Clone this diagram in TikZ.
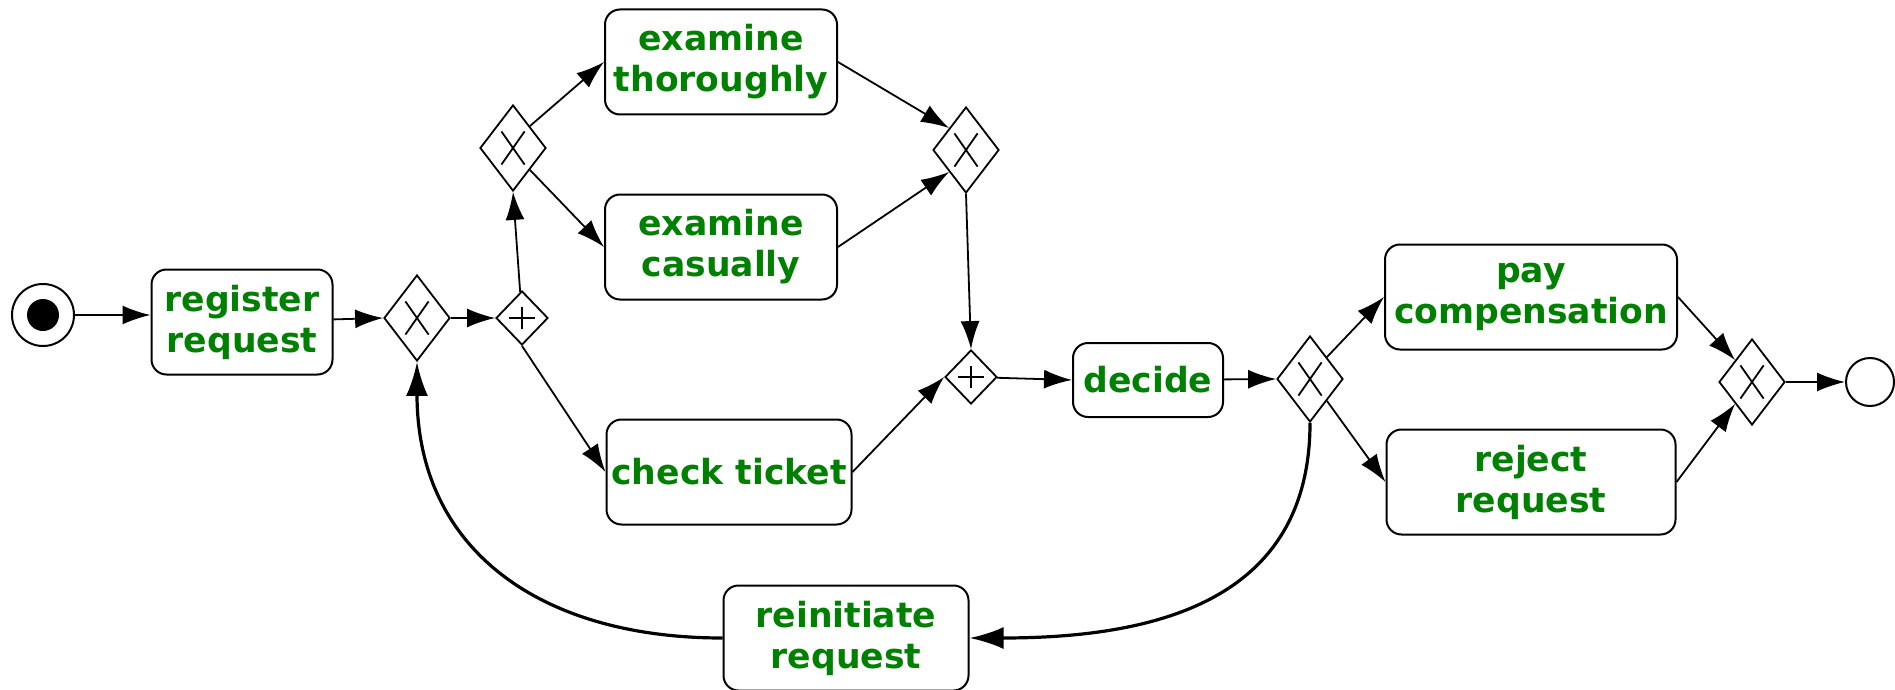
\documentclass[tikz,border=0pt]{standalone}
\usepackage{fontspec}
\setmainfont{DejaVu Sans}
\usetikzlibrary{shapes.geometric}
\usetikzlibrary{arrows.meta}
\definecolor{taskgreen}{RGB}{0,128,0}

\tikzset{
    task/.style={rectangle, rounded corners=7.5pt, draw, line width=1pt, align=center,
        text=taskgreen, font=\fontsize{17.3}{20.5}\selectfont\bfseries, inner sep=0pt,
        minimum height=52.5pt},
    gate/.style={diamond, draw, line width=0.9pt, inner sep=0pt, minimum width=33pt, minimum height=43pt},
    xgate/.style={gate, path picture={
        \draw[line width=0.9pt] ([shift={(-5.8pt,-8.3pt)}]path picture bounding box.center) -- ++(11.6pt,16.6pt);
        \draw[line width=0.9pt] ([shift={(-5.8pt,8.3pt)}]path picture bounding box.center) -- ++(11.6pt,-16.6pt);}},
    pgate/.style={gate, minimum width=26pt, minimum height=27pt, path picture={
        \draw[line width=0.9pt] ([shift={(-6.5pt,0pt)}]path picture bounding box.center) -- ++(13pt,0pt);
        \draw[line width=0.9pt] ([shift={(0pt,-5.7pt)}]path picture bounding box.center) -- ++(0pt,11.4pt);}},
    flow/.style={-{Latex[length=14pt,width=9.5pt]}, line width=0.9pt},
    loop/.style={-{Latex[length=17pt,width=11pt]}, line width=1.6pt, looseness=1.15}
}

\begin{document}
\begin{tikzpicture}[x=0.5pt, y=-0.5pt]
            \useasboundingbox (0,0) rectangle (1895,690);

            \node[circle, draw, line width=1pt, minimum size=31pt, inner sep=0pt] (start) at (43, 315) {};
            \fill (start.center) circle (8pt);
            \node[circle, draw, line width=1pt, minimum size=24pt, inner sep=0pt] (finish) at (1870, 382) {};

            \node[task, minimum width=90.5pt] (register) at (242, 322) {register\\ request};
            \node[xgate] (xsplit) at (417, 318) {};
            \node[pgate] (andsplit) at (522, 318) {};
            \node[xgate] (xexam) at (513, 148) {};
            \node[task, minimum width=116pt] (thorough) at (721, 62) {examine\\ thoroughly};
            \node[task, minimum width=116pt] (casual) at (721, 247) {examine\\ casually};
            \node[task, minimum width=122.5pt] (ticket) at (729, 472) {check ticket};
            \node[xgate] (xjoin) at (966, 150) {};
            \node[pgate] (andjoin) at (971, 377) {};
            \node[task, minimum width=75pt, minimum height=37pt] (decide) at (1148, 380) {decide};
            \node[xgate] (xdecide) at (1310, 379) {};
            \node[task, minimum width=146pt] (pay) at (1531, 297) {pay\\ compensation};
            \node[task, minimum width=144.5pt] (reject) at (1531, 482) {reject\\ request};
            \node[xgate] (xend) at (1752, 382) {};
            \node[task, minimum width=122.5pt] (reinit) at (846, 638) {reinitiate\\ request};

            %sequence flows
            \draw[flow] (start) -- (register.west |- start);
            \draw[flow] (register) -- (xsplit.west);
            \draw[flow] (xsplit) -- (andsplit.west);
            \draw[flow] (andsplit) -- (xexam.south);
            \draw[flow] (xexam.north east) -- (thorough.west);
            \draw[flow] (xexam.south east) -- (casual.west);
            \draw[flow] (andsplit.south) -- (ticket.west);
            \draw[flow] (thorough.east) -- (xjoin.north west);
            \draw[flow] (casual.east) -- (xjoin.south west);
            \draw[flow] (xjoin.south) -- (andjoin.north);
            \draw[flow] (ticket.east) -- (andjoin.west);
            \draw[flow] (andjoin) -- (decide.west);
            \draw[flow] (decide) -- (xdecide.west);
            \draw[flow] (xdecide.north east) -- (pay.west);
            \draw[flow] (xdecide.south east) -- (reject.west);
            \draw[flow] (pay.east) -- (xend.north west);
            \draw[flow] (reject.east) -- (xend.south west);
            \draw[flow] (xend) -- (finish);

            %loop back
            \draw[loop] (reinit.west) to[out=180, in=-90] (xsplit.south);
            \draw[loop] (xdecide.south) to[out=-90, in=0] (reinit.east);
        \end{tikzpicture}
\end{document}
